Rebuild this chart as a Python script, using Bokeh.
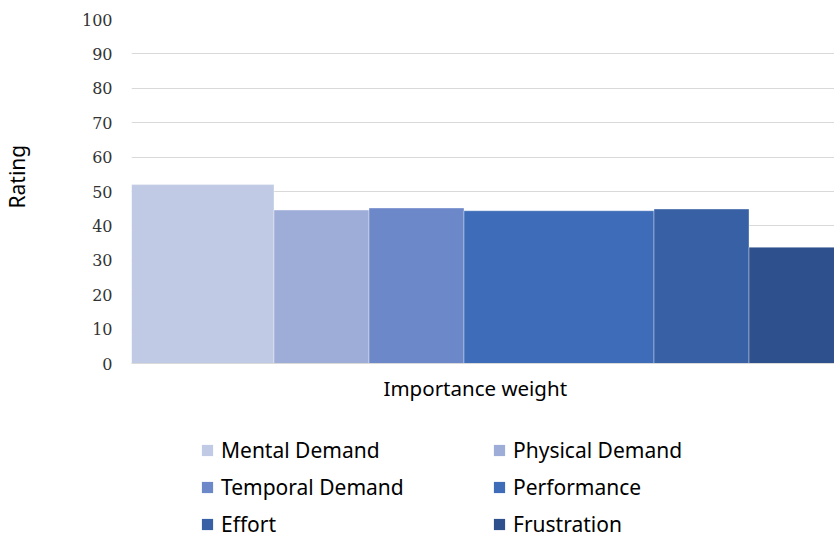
from bokeh.plotting import figure
from bokeh.layouts import column
from bokeh.models import Legend, LegendItem, ColumnDataSource, FixedTicker, Title
from bokeh.embed import file_html
from bokeh.resources import INLINE
import numpy as np

# ---- data ----
categories = ["Mental Demand", "Physical Demand", "Temporal Demand", "Performance", "Effort", "Frustration"]
weights = [3, 2, 2, 4, 2, 2]
ratings = [52.0, 44.6, 45.2, 44.4, 44.9, 33.8]
colors = ["#C0CAE4", "#9EADD8", "#6D88C9", "#3E6CB8", "#3860A5", "#2E518D"]
y_ticks = [0, 10, 20, 30, 40, 50, 60, 70, 80, 90, 100]
x_title = "Importance weight"
y_title = "Rating"

right = np.cumsum(weights)
left = right - np.array(weights)
src = ColumnDataSource(dict(left=left, right=right, top=ratings,
                            bottom=[0] * len(ratings), color=colors, name=categories))

# ---- main chart ----
p = figure(width=834, height=410, output_backend="svg", toolbar_location=None,
           x_range=(0, 14.8), y_range=(0, 100),
           min_border_left=131, min_border_right=0, min_border_top=19, min_border_bottom=47)
p.outline_line_color = None

p.quad(left="left", right="right", top="top", bottom="bottom", fill_color="color",
       line_color="white", line_alpha=0.35, line_width=1, source=src)

p.yaxis.ticker = FixedTicker(ticks=y_ticks)
p.yaxis.axis_line_color = None
p.yaxis.major_tick_line_color = None
p.yaxis.minor_tick_line_color = None
p.yaxis.major_label_standoff = 13
p.yaxis.major_label_text_font = "DejaVu Serif"
p.yaxis.major_label_text_font_size = "16px"
p.yaxis.major_label_text_color = "#333333"
# blank spacer label to push the rotated title outward
p.yaxis.axis_label = " "
p.yaxis.axis_label_text_font_size = "1px"
p.yaxis.axis_label_standoff = 44

p.xaxis.ticker = FixedTicker(ticks=[])
p.xaxis.axis_line_color = "#D9D9D9"
p.xaxis.major_tick_line_color = None
p.xaxis.minor_tick_line_color = None

p.xgrid.grid_line_color = None
p.ygrid.grid_line_color = "#D9D9D9"
p.ygrid.ticker = FixedTicker(ticks=y_ticks)

yt = Title(text=y_title, align="left", offset=155, standoff=0,
           text_font="Noto Sans", text_font_size="21px", text_font_style="normal",
           text_color="#000000")
p.add_layout(yt, "left")
xt = Title(text=x_title, align="left", offset=252, standoff=16,
           text_font="Noto Sans", text_font_size="20.5px", text_font_style="normal",
           text_color="#000000")
p.add_layout(xt, "below")

# ---- legend strip ----
lg = figure(width=834, height=128, output_backend="svg", toolbar_location=None,
            x_axis_type=None, y_axis_type=None, x_range=(-100, -99), y_range=(-100, -99),
            min_border=0)
lg.outline_line_color = None
lg.xgrid.grid_line_color = None
lg.ygrid.grid_line_color = None
lr = lg.quad(left="left", right="right", top="top", bottom="bottom", fill_color="color",
             line_color=None, source=src)

items = [LegendItem(label=c, renderers=[lr], index=i) for i, c in enumerate(categories)]
legend = Legend(items=items, orientation="horizontal", ncols=2,
                location=(69, 0), glyph_width=14, glyph_height=14, label_standoff=7,
                label_width=262, spacing=9, padding=0, margin=0,
                border_line_color=None, background_fill_alpha=0,
                label_text_font="Noto Sans", label_text_font_size="21px",
                label_text_color="#000000")
lg.add_layout(legend, "center")

layout = column(p, lg, spacing=0)
open("out.html", "w").write(file_html(layout, INLINE))
